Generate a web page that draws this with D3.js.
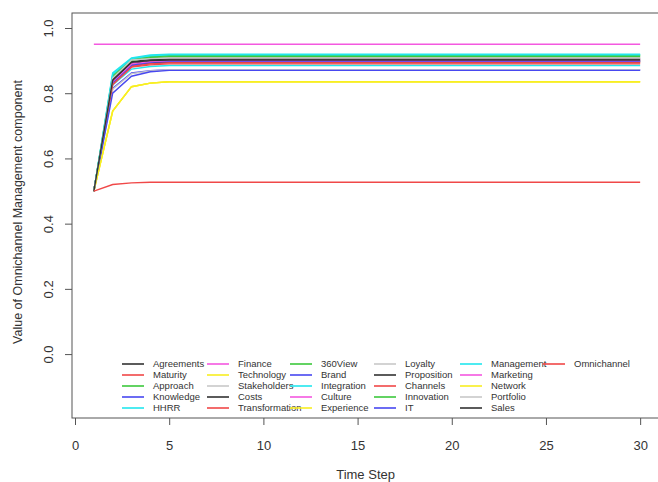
<!DOCTYPE html>
<html>
<head>
<meta charset="utf-8">
<script src="https://cdn.jsdelivr.net/npm/d3@7"></script>
<style>
	body { margin: 0; background: #fff; }
	svg { display: block; font-family: "Liberation Sans", Arial, sans-serif; }
	.lab { fill: #333; }
</style>
</head>
<body>
<svg width="658" height="482"></svg>
<script>
'use strict';

// time steps (all series are flat after step 5)
const steps = [1, 2, 3, 4, 5, 30];

const names = ["Agreements", "Maturity", "Approach", "Knowledge", "HHRR",
	"Finance", "Technology", "Stakeholders", "Costs", "Transformation",
	"360View", "Brand", "Integration", "Culture", "Experience",
	"Loyalty", "Proposition", "Channels", "Innovation", "IT",
	"Management", "Marketing", "Network", "Portfolio", "Sales",
	"Omnichannel"];

const values = [
	[0.5, 0.835, 0.890, 0.898, 0.900, 0.900],
	[0.5, 0.830, 0.885, 0.892, 0.895, 0.895],
	[0.5, 0.850, 0.903, 0.912, 0.915, 0.915],
	[0.5, 0.815, 0.862, 0.869, 0.872, 0.872],
	[0.5, 0.825, 0.874, 0.882, 0.885, 0.885],
	[0.5, 0.840, 0.895, 0.902, 0.905, 0.905],
	[0.5, 0.745, 0.820, 0.831, 0.835, 0.835],
	[0.5, 0.845, 0.900, 0.907, 0.910, 0.910],
	[0.5, 0.838, 0.890, 0.895, 0.897, 0.897],
	[0.5, 0.828, 0.882, 0.890, 0.893, 0.893],
	[0.5, 0.855, 0.906, 0.914, 0.917, 0.917],
	[0.5, 0.832, 0.886, 0.895, 0.898, 0.898],
	[0.5, 0.862, 0.908, 0.917, 0.920, 0.920],
	[0.5, 0.836, 0.890, 0.897, 0.900, 0.900],
	[0.5, 0.745, 0.820, 0.831, 0.835, 0.835],
	[0.5, 0.812, 0.860, 0.868, 0.872, 0.872],
	[0.5, 0.842, 0.897, 0.903, 0.905, 0.905],
	[0.5, 0.826, 0.880, 0.887, 0.890, 0.890],
	[0.5, 0.848, 0.900, 0.909, 0.912, 0.912],
	[0.5, 0.800, 0.852, 0.866, 0.870, 0.870],
	[0.5, 0.858, 0.906, 0.915, 0.918, 0.918],
	[0.95, 0.95, 0.95, 0.95, 0.95, 0.95],
	[0.5, 0.745, 0.820, 0.831, 0.835, 0.835],
	[0.5, 0.846, 0.902, 0.906, 0.908, 0.908],
	[0.5, 0.840, 0.895, 0.900, 0.902, 0.902],
	[0.5, 0.520, 0.525, 0.527, 0.527, 0.527]
];

// R base palette, cycled
const palette = ["#333333", "#f04848", "#3cc83c", "#4848f0", "#22e6ee", "#f458e0", "#f8ee22", "#c8c8c8"];

const xTicks = [0, 5, 10, 15, 20, 25, 30];
const yTicks = [0.0, 0.2, 0.4, 0.6, 0.8, 1.0];

const svg = d3.select("svg");

const x = d3.scaleLinear().domain([-0.16, 31.16]).range([72, 662]);
const y = d3.scaleLinear().domain([-0.196, 1.046]).range([418, 13]);

// series
const line = d3.line()
	.x((d, i) => x(steps[i]))
	.y(d => y(d));

svg.append("g")
	.selectAll("path")
	.data(values)
	.enter().append("path")
	.attr("d", line)
	.attr("fill", "none")
	.attr("stroke", (d, i) => palette[i % palette.length])
	.attr("stroke-width", 1.4);

// plot box
svg.append("rect")
	.attr("x", x.range()[0])
	.attr("y", y.range()[1])
	.attr("width", x.range()[1] - x.range()[0])
	.attr("height", y.range()[0] - y.range()[1])
	.attr("fill", "none")
	.attr("stroke", "#555")
	.attr("stroke-width", 1);

// x axis
const xAxis = svg.append("g")
	.attr("transform", "translate(0," + 418 + ")")
	.call(d3.axisBottom(x).tickValues(xTicks).tickFormat(d3.format("d")).tickSize(7).tickPadding(16));
xAxis.select(".domain").remove();
xAxis.selectAll(".tick line").attr("stroke", "#555");
xAxis.selectAll(".tick text").attr("font-size", 13).attr("fill", "#333");

// y axis, labels parallel to the axis
const yAxis = svg.append("g")
	.attr("transform", "translate(" + 72 + ",0)")
	.call(d3.axisLeft(y).tickValues(yTicks).tickFormat(d3.format(".1f")).tickSize(7));
yAxis.select(".domain").remove();
yAxis.selectAll(".tick line").attr("stroke", "#555");
yAxis.selectAll(".tick text")
	.attr("font-size", 13)
	.attr("fill", "#333")
	.attr("x", null).attr("dy", null)
	.attr("text-anchor", "middle")
	.attr("transform", "translate(-24,0) rotate(-90)")
	.attr("dominant-baseline", "central");

// axis titles
svg.append("text")
	.attr("class", "lab")
	.attr("x", (x(0) + x(30)) / 2 + 8)
	.attr("y", 479)
	.attr("text-anchor", "middle")
	.attr("font-size", 13)
	.text("Time Step");

svg.append("text")
	.attr("class", "lab")
	.attr("transform", "translate(22," + 212 + ") rotate(-90)")
	.attr("text-anchor", "middle")
	.attr("font-size", 12.5)
	.text("Value of Omnichannel Management component");

// legend, 5 rows per column
const colX = [122, 207, 290, 374, 460, 543];
const rowY0 = 364, rowH = 11;

const item = svg.append("g")
	.selectAll("g")
	.data(names)
	.enter().append("g")
	.attr("transform", (d, i) => "translate(" + colX[Math.floor(i / 5)] + "," + (rowY0 + (i % 5) * rowH) + ")");

item.append("line")
	.attr("x1", 0).attr("x2", 22)
	.attr("stroke", (d, i) => palette[i % palette.length])
	.attr("stroke-width", 1.6);

item.append("text")
	.attr("x", 31)
	.attr("dy", "0.35em")
	.attr("font-size", 9.5)
	.attr("fill", "#333")
	.text(d => d);
</script>
</body>
</html>
